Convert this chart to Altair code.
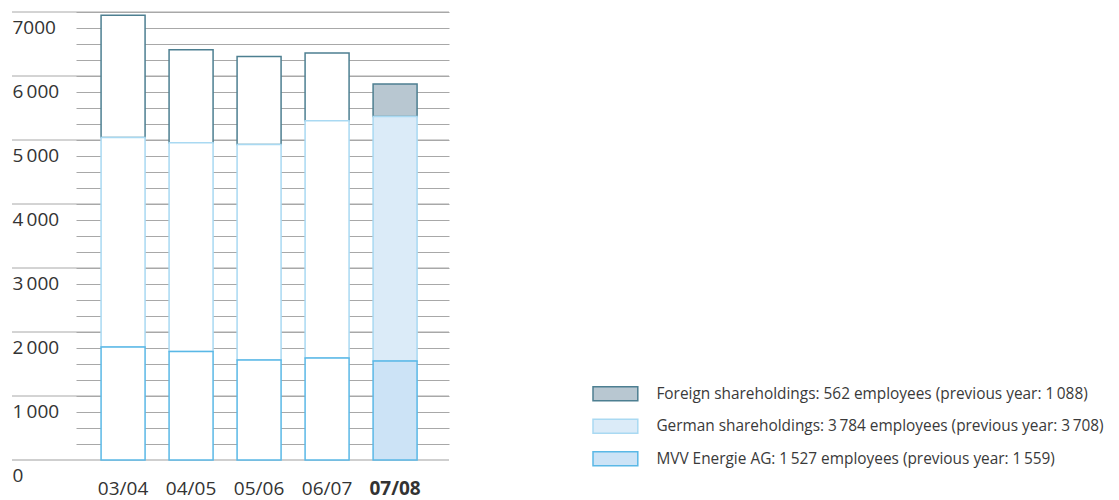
import altair as alt
import pandas as pd

years = ["03/04", "04/05", "05/06", "06/07", "07/08"]
categories = [
    "Foreign shareholdings: 562 employees (previous year: 1\u2009088)",
    "German shareholdings: 3\u2009784 employees (previous year: 3\u2009708)",
    "MVV Energie AG: 1\u2009527 employees (previous year: 1\u2009559)",
]
foreign = [1907, 1453, 1375, 1057, 506]
german = [3275, 3261, 3368, 3708, 3822]
mvv = [1766, 1697, 1563, 1594, 1547]

fill_colors = ["#b8c7d1", "#dbebf8", "#cce3f6"]
stroke_colors = ["#4d7f91", "#a9d9f2", "#5ab8e6"]

y_tick_values = list(range(0, 7001, 250))
major_values = [1000, 2000, 3000, 4000, 5000, 6000, 7000]
major_labels = ["1\u2009000", "2\u2009000", "3\u2009000", "4\u2009000", "5\u2009000", "6\u2009000", "7000"]

# draw order: top segments first so lower segments' edges overlay
rows = []
for ci, (cat, vals) in enumerate(zip(categories, [foreign, german, mvv])):
    for y, v in zip(years, vals):
        rows.append({"year": y, "category": cat, "value": v, "stackorder": 2 - ci})
df = pd.DataFrame(rows)

label_expr = "datum.value == 0 ? '0' : " + " : ".join(
    f"datum.value == {v} ? '{l}'" for v, l in zip(major_values, major_labels)
) + " : ''"

W, H = 373, 448
FONT = "Open Sans"

y_scale = alt.Scale(domain=[0, 7000], nice=False, zero=True)
x_scale = alt.Scale(domain=years, paddingInner=0.353, paddingOuter=0.419, align=0.44)


def y_axis():
    return alt.Axis(
        title=None,
        values=y_tick_values,
        domain=False,
        ticks=False,
        tickSize=0,
        grid=True,
        gridColor="#a8a8a8",
        gridWidth=1,
        gridOpacity={"condition": {"test": "datum.value == 0", "value": 0}, "value": 1},
        labelExpr=label_expr,
        labelAlign="left",
        labelPadding=64,
        labelBaseline="middle",
        labelOffset=15,
        labelOverlap=False,
        labelFont=FONT,
        labelFontSize=19,
        labelColor="#333333",
    )


leg = alt.Legend(
    title=None,
    orient="none",
    legendX=524.4,
    legendY=366.7,
    padding=0,
    symbolType="M-1.6,-0.5H1.6V0.5H-1.6Z",
    symbolSize=784,
    symbolStrokeWidth=1.5,
    symbolOpacity=1,
    rowPadding=7.5,
    labelOffset=26,
    labelFont=FONT,
    labelFontSize=15.4,
    labelColor="#3a3a3a",
    labelLimit=0,
)

major_df = pd.DataFrame({"v": major_values})
major = alt.Chart(major_df).mark_rule(color="#a8a8a8", strokeWidth=1).encode(
    y=alt.Y("v:Q", scale=y_scale, axis=y_axis()),
    x=alt.value(-64),
    x2=alt.value(W),
)
base_df = pd.DataFrame({"v": [0]})
baseline = alt.Chart(base_df).mark_rule(color="#cfcfcf", strokeWidth=2).encode(
    y=alt.Y("v:Q", scale=y_scale, axis=y_axis()),
    x=alt.value(-64),
    x2=alt.value(W),
)

bars = alt.Chart(df).mark_bar(strokeWidth=1.5, opacity=1).encode(
    x=alt.X(
        "year:N",
        scale=x_scale,
        sort=years,
        axis=alt.Axis(
            title=None,
            domain=False,
            ticks=False,
            grid=False,
            labelAngle=0,
            labelFont=FONT,
            labelFontSize=19,
            labelColor="#333333",
            labelPadding=19,
            labelFontWeight={"condition": {"test": "datum.value == '07/08'", "value": "bold"}, "value": "normal"},
        ),
    ),
    y=alt.Y("value:Q", stack="zero", scale=y_scale, axis=y_axis()),
    fill=alt.condition(
        "datum.year == '07/08'",
        alt.Fill("category:N", scale=alt.Scale(domain=categories, range=fill_colors), legend=leg),
        alt.value("white"),
    ),
    stroke=alt.Stroke("category:N", scale=alt.Scale(domain=categories, range=stroke_colors), legend=leg),
    order=alt.Order("stackorder:Q", sort="ascending"),
)

chart = (
    alt.layer(major, baseline, bars)
    .properties(
        width=W,
        height=H,
        autosize=alt.AutoSizeParams(type="none"),
        padding={"left": 68, "top": 4, "right": 662, "bottom": 40},
        background="white",
    )
    .configure_view(stroke=None)
)

chart.save("out.html", embed_options={"renderer": "svg", "actions": False})
